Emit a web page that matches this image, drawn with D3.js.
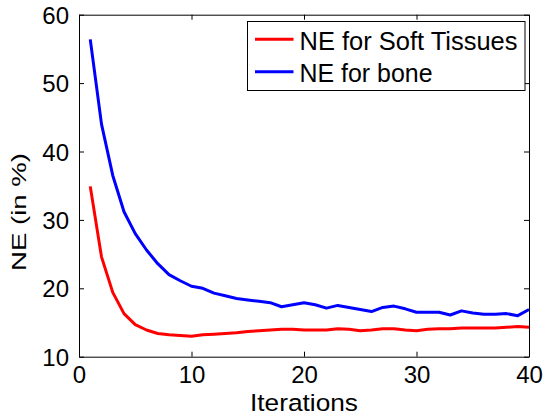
<!DOCTYPE html>
<html><head><meta charset="utf-8">
<script src="https://cdn.jsdelivr.net/npm/d3@7"></script>
<style>body{margin:0;background:#fff}svg{display:block;font-family:"Liberation Sans",Arial,sans-serif}</style>
</head><body>
<script>
const iterations = d3.range(1, 41);
const boneNE = [56.4,44.0,36.5,31.2,28.0,25.6,23.6,22.0,21.1,20.3,20.0,19.3,18.9,18.5,18.3,18.1,17.9,17.3,17.6,17.9,17.6,17.1,17.5,17.2,16.9,16.6,17.2,17.4,17.0,16.5,16.5,16.5,16.1,16.7,16.4,16.2,16.2,16.3,16.0,16.9];
const softNE = [34.9,24.6,19.4,16.3,14.7,13.9,13.4,13.2,13.1,13.0,13.2,13.3,13.4,13.5,13.7,13.8,13.9,14.0,14.0,13.9,13.9,13.9,14.1,14.0,13.8,13.9,14.1,14.1,13.9,13.8,14.0,14.1,14.1,14.2,14.2,14.2,14.2,14.3,14.4,14.3];
const xTicks = [0,10,20,30,40];
const yTicks = [10,20,30,40,50,60];
const seriesNames = ["NE for Soft Tissues","NE for bone"];
const seriesColors = ["#ff0000","#0000ff"];

const W=544,H=418;
const m={left:79,right:15,top:14.7,bottom:61.3};
const svg=d3.select("body").append("svg").attr("width",W).attr("height",H);
const x=d3.scaleLinear().domain([0,40]).range([m.left,W-m.right]);
const y=d3.scaleLinear().domain([10,60]).range([H-m.bottom,m.top]);
const fs=24;

const line=d3.line().x((d,i)=>x(iterations[i])).y(d=>y(d));
svg.append("path").datum(boneNE).attr("d",line).attr("fill","none").attr("stroke",seriesColors[1]).attr("stroke-width",3).attr("stroke-linejoin","round");
svg.append("path").datum(softNE).attr("d",line).attr("fill","none").attr("stroke",seriesColors[0]).attr("stroke-width",3).attr("stroke-linejoin","round");

const tl=5;
const gxb=svg.append("g").attr("transform",`translate(0,${y(10)})`).call(d3.axisBottom(x).tickValues(xTicks).tickSizeInner(-tl).tickSizeOuter(0).tickPadding(9));
const gxt=svg.append("g").attr("transform",`translate(0,${y(60)})`).call(d3.axisTop(x).tickValues(xTicks).tickSizeInner(-tl).tickSizeOuter(0).tickFormat(""));
const gyl=svg.append("g").attr("transform",`translate(${x(0)},0)`).call(d3.axisLeft(y).tickValues(yTicks).tickSizeInner(-tl).tickSizeOuter(0).tickPadding(10));
const gyr=svg.append("g").attr("transform",`translate(${x(40)},0)`).call(d3.axisRight(y).tickValues(yTicks).tickSizeInner(-tl).tickSizeOuter(0).tickFormat(""));
[gxb,gxt,gyl,gyr].forEach(g=>{
  g.selectAll(".domain").attr("stroke","#000").attr("stroke-width",1);
  g.selectAll(".tick line").attr("stroke","#000");
  g.selectAll("text").attr("font-size",fs).attr("fill","#000").attr("font-family","Liberation Sans, Arial, sans-serif");
});
gyl.selectAll(".tick text").attr("dy","0.36em");
gxb.selectAll(".tick text").attr("dy","0.71em");

// axis labels
svg.append("text").attr("x",(x(0)+x(40))/2).attr("y",410.5).attr("text-anchor","middle").attr("font-size",24.5)
  .attr("textLength",108).attr("lengthAdjust","spacingAndGlyphs").text("Iterations");
svg.append("text").attr("transform",`translate(26,212) rotate(-90)`).attr("text-anchor","middle").attr("font-size",21)
  .attr("textLength",118).attr("lengthAdjust","spacingAndGlyphs").text("NE (in %)");

// legend
const lg=svg.append("g");
lg.append("rect").attr("x",247.5).attr("y",21.5).attr("width",277.5).attr("height",69).attr("fill","#fff").attr("stroke","#000").attr("stroke-width",1);
const ly=[39.3,71.7];
const lw=[218,133];
seriesNames.forEach((n,i)=>{
  lg.append("line").attr("x1",255).attr("x2",293.5).attr("y1",ly[i]).attr("y2",ly[i]).attr("stroke",seriesColors[i]).attr("stroke-width",3);
  lg.append("text").attr("x",299.5).attr("y",ly[i]+10.5).attr("font-size",25)
    .attr("textLength",lw[i]).attr("lengthAdjust","spacingAndGlyphs").attr("fill","#000").text(n);
});
</script>
</body></html>
